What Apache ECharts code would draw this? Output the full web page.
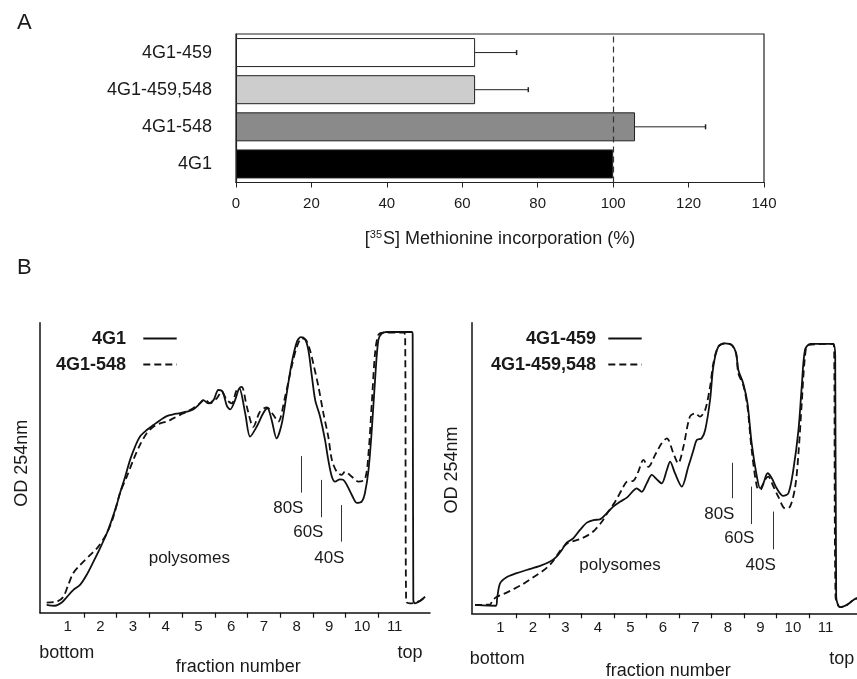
<!DOCTYPE html>
<html>
<head>
<meta charset="utf-8">
<script src="https://cdn.jsdelivr.net/npm/echarts@6/dist/echarts.min.js"></script>
<style>
  html, body { margin: 0; padding: 0; background: #ffffff; }
  #chart { width: 857px; height: 679px; }
</style>
</head>
<body>
<div id="chart"></div>
<script>
// ---- Panel A: [35S] methionine incorporation (bottom-to-top category order) ----
const constructs = ['4G1', '4G1-548', '4G1-459,548', '4G1-459'];
const incorporation = [100, 105.8, 63.4, 63.4];
const incorporationErr = [0, 18.7, 14.1, 11.0];
const incorporationTicks = [0, 20, 40, 60, 80, 100, 120, 140];

// ---- Panel B: polysome profiles, [fraction position, OD 254nm (a.u.)] ----
const profile4G1 = [
  [0.36,2.7],[0.61,2.4],[0.82,3.5],[0.97,5.3],[1.17,7.8],[1.38,9.6],[1.58,13.0],[1.79,17.6],
  [1.99,22.2],[2.20,27.4],[2.35,32.0],[2.50,37.1],[2.60,41.2],[2.76,46.9],[2.91,52.7],[3.06,57.2],
  [3.21,60.7],[3.42,63.0],[3.62,64.7],[3.83,66.4],[4.03,67.8],[4.23,68.4],[4.44,68.8],[4.64,69.3],
  [4.84,70.1],[5.00,71.6],[5.15,73.3],[5.30,72.2],[5.46,73.3],[5.61,76.8],[5.74,76.2],[5.87,71.3],
  [5.97,70.1],[6.12,73.3],[6.25,77.4],[6.43,68.8],[6.58,60.7],[6.78,64.1],[6.98,68.8],[7.11,70.5],
  [7.24,66.4],[7.39,60.1],[7.55,65.3],[7.70,75.7],[7.85,86.0],[8.01,93.4],[8.13,95.0],[8.26,94.3],
  [8.36,90.6],[8.47,81.4],[8.57,73.3],[8.72,67.6],[8.87,59.6],[8.97,52.7],[9.08,46.9],[9.18,45.2],
  [9.33,46.0],[9.43,45.8],[9.54,44.0],[9.69,40.6],[9.84,37.9],[9.99,38.3],[10.09,41.2],[10.20,49.2],
  [10.30,63.0],[10.40,80.2],[10.50,94.0],[10.61,96.3],[10.76,96.8],[11.52,96.8],[11.55,95.8],
  [11.57,4.4],[11.62,3.2],[11.78,4.1],[11.93,5.5]
];
const profile4G1_548 = [
  [0.36,3.5],[0.67,3.8],[0.87,5.5],[1.02,9.6],[1.17,13.6],[1.38,16.4],[1.69,19.9],[1.94,22.8],
  [2.20,27.4],[2.40,33.1],[2.60,41.2],[2.81,46.9],[3.01,52.7],[3.21,57.8],[3.42,61.9],[3.62,64.1],
  [3.83,65.3],[4.03,65.9],[4.23,67.0],[4.44,68.2],[4.64,69.3],[4.84,70.5],[5.05,72.2],[5.20,73.6],
  [5.35,72.2],[5.56,73.9],[5.71,76.2],[5.87,73.3],[6.02,72.2],[6.17,76.8],[6.32,77.9],[6.48,71.0],
  [6.68,64.1],[6.88,69.3],[7.09,70.8],[7.29,68.2],[7.44,65.9],[7.65,74.5],[7.85,84.8],[8.01,91.7],
  [8.16,94.6],[8.29,94.0],[8.41,90.6],[8.51,86.0],[8.67,77.9],[8.82,68.8],[8.97,60.7],[9.08,52.7],
  [9.23,48.6],[9.38,47.5],[9.48,48.6],[9.69,46.9],[9.89,45.2],[10.09,46.0],[10.20,55.0],[10.30,72.2],
  [10.40,89.4],[10.50,95.8],[10.65,96.6],[11.27,96.6],[11.32,95.8],[11.35,3.8],[11.47,3.2],
  [11.78,4.1],[11.93,5.5]
];
const profile4G1_459 = [
  [0.22,2.9],[0.86,2.6],[0.90,5.2],[0.99,10.3],[1.19,12.4],[1.50,13.8],[1.81,14.9],[2.22,16.3],
  [2.53,17.8],[2.73,19.5],[2.89,21.8],[3.04,24.3],[3.24,25.8],[3.45,28.7],[3.66,31.2],[3.86,32.1],
  [4.06,32.3],[4.27,34.4],[4.47,36.7],[4.68,38.4],[4.89,39.8],[5.09,42.2],[5.19,43.0],[5.35,41.8],
  [5.50,44.7],[5.66,47.6],[5.81,46.1],[5.96,44.7],[6.12,49.3],[6.22,52.2],[6.37,48.2],[6.58,43.6],
  [6.78,50.4],[6.94,56.2],[7.04,59.6],[7.19,60.2],[7.30,63.1],[7.45,73.4],[7.55,84.9],[7.70,91.7],
  [7.91,92.9],[8.12,92.3],[8.25,89.5],[8.32,83.7],[8.47,79.1],[8.60,72.3],[8.73,58.5],[8.89,47.0],
  [8.99,43.0],[9.09,44.7],[9.22,48.2],[9.35,46.5],[9.50,43.0],[9.70,40.4],[9.86,41.3],[10.01,49.3],
  [10.17,63.1],[10.27,78.0],[10.37,90.6],[10.53,92.7],[11.24,92.7],[11.30,88.0],[11.33,5.7],
  [11.45,2.1],[11.66,2.9],[11.86,4.6],[11.97,5.2]
];
const profile4G1_459_548 = [
  [0.22,2.9],[0.68,3.0],[0.75,4.3],[0.89,5.7],[1.09,6.6],[1.40,8.3],[1.70,10.1],[2.01,12.4],
  [2.32,14.7],[2.58,17.4],[2.78,20.6],[2.94,22.9],[3.09,24.3],[3.30,25.0],[3.50,25.8],[3.70,26.9],
  [3.91,28.7],[4.12,31.5],[4.32,35.0],[4.53,38.4],[4.73,42.4],[4.89,45.3],[5.09,45.6],[5.24,48.7],
  [5.40,52.8],[5.55,50.4],[5.76,54.5],[5.96,58.5],[6.12,60.2],[6.32,55.1],[6.47,51.6],[6.63,57.3],
  [6.83,67.7],[6.99,68.8],[7.14,67.7],[7.30,70.0],[7.45,78.0],[7.55,86.0],[7.70,91.7],[7.91,92.9],
  [8.12,92.3],[8.25,89.5],[8.32,82.5],[8.47,78.6],[8.60,71.1],[8.73,56.2],[8.89,43.6],[8.99,42.4],
  [9.14,45.9],[9.24,47.0],[9.40,43.6],[9.55,40.1],[9.76,36.1],[9.91,36.7],[10.07,43.6],[10.17,55.1],
  [10.27,72.3],[10.37,88.3],[10.47,92.3],[11.24,92.7],[11.27,88.0],[11.31,5.7],[11.45,2.1],
  [11.66,2.9],[11.86,4.6],[11.97,5.2]
];
const fractionLabels = [1, 2, 3, 4, 5, 6, 7, 8, 9, 10, 11];
const fractionBoundaries = [1.5, 2.5, 3.5, 4.5, 5.5, 6.5, 7.5, 8.5, 9.5, 10.5];

// Ribosomal subunit markers: [label, fraction position, top OD, bottom OD]
const markersLeft = [['80S', 8.14, 54.0, 41.4], ['60S', 8.74, 45.8, 32.9], ['40S', 9.38, 37.1, 24.5]];
const markersRight = [['80S', 8.12, 51.8, 39.6], ['60S', 8.71, 43.6, 30.7], ['40S', 9.38, 35.0, 22.0]];

// ---- styling ----
const FONT = '"Liberation Sans", Arial, Helvetica, sans-serif';
const INK = '#111111';
const barFills = ['#000000', '#8a8a8a', '#cdcdcd', '#ffffff'];

const chart = echarts.init(document.getElementById('chart'), null, { renderer: 'canvas' });

function markerLines(list) {
  return list.map(m => [{ coord: [m[1], m[2]] }, { coord: [m[1], m[3]] }]);
}

function profileAxes(gridIndex, min, max) {
  return {
    x: {
      type: 'value', gridIndex, min, max,
      axisLine: { show: true, onZero: false, lineStyle: { color: INK, width: 1.5 } },
      axisTick: { show: true, customValues: fractionBoundaries, length: 5, lineStyle: { color: INK, width: 1.2 } },
      axisLabel: { show: true, customValues: fractionLabels, margin: 7, fontSize: 15, color: '#1a1a1a', fontFamily: FONT,
                   formatter: v => String(Math.round(v)) },
      splitLine: { show: false }
    },
    y: {
      type: 'value', gridIndex, min: 0, max: 100,
      axisLine: { show: true, onZero: false, lineStyle: { color: INK, width: 1.5 } },
      axisTick: { show: false }, axisLabel: { show: false }, splitLine: { show: false }
    }
  };
}
const axL = profileAxes(1, 0.156, 12.08);
const axR = profileAxes(2, 0.117, 11.97);

function trace(name, data, idx, dashed, markers) {
  const s = {
    name, type: 'line', xAxisIndex: idx, yAxisIndex: idx, data,
    symbol: 'none', smooth: 0.3, silent: true, animation: false,
    lineStyle: { color: INK, width: 1.8, type: dashed ? [7, 4] : 'solid' }
  };
  if (markers) {
    s.markLine = {
      symbol: 'none', silent: true, animation: false,
      label: { show: false },
      lineStyle: { color: '#333', width: 1, type: 'solid' },
      data: markerLines(markers)
    };
  }
  return s;
}

function txt(text, x, y, size, opts) {
  opts = opts || {};
  return {
    type: 'text', x, y, rotation: opts.rotation || 0, silent: true,
    style: {
      text, font: (opts.bold ? 'bold ' : '') + size + 'px ' + FONT,
      fill: '#1a1a1a', textAlign: opts.align || 'center', textVerticalAlign: 'middle'
    }
  };
}
function seg(x1, y1, x2, y2, dashed) {
  return {
    type: 'line', silent: true,
    shape: { x1, y1, x2, y2 },
    style: { stroke: INK, lineWidth: 1.8, lineDash: dashed ? [7, 4] : null }
  };
}

const option = {
  backgroundColor: '#ffffff',
  animation: false,
  textStyle: { fontFamily: FONT },
  grid: [
    { left: 236, top: 34, width: 528, height: 148.5, show: true, borderColor: '#222', borderWidth: 1.2, backgroundColor: 'transparent' },
    { left: 40, top: 322.7, width: 390, height: 290 },
    { left: 471.7, top: 322.7, width: 385.3, height: 290.6 }
  ],
  xAxis: [
    {
      type: 'value', gridIndex: 0, min: 0, max: 140, interval: 20,
      axisLine: { show: true, onZero: false, lineStyle: { color: '#222', width: 1.2 } },
      axisTick: { show: true, length: 5, lineStyle: { color: '#222' } },
      axisLabel: { margin: 14, fontSize: 15, color: '#1a1a1a', fontFamily: FONT },
      splitLine: { show: false },
      name: '[{sup|35}S] Methionine incorporation (%)',
      nameLocation: 'middle', nameGap: 47,
      nameTextStyle: { fontSize: 18, color: '#1a1a1a', fontFamily: FONT,
        rich: { sup: { fontSize: 11, verticalAlign: 'top', padding: [0, 1, 9, 0], fontFamily: FONT, color: '#1a1a1a' } } }
    },
    axL.x, axR.x
  ],
  yAxis: [
    {
      type: 'category', gridIndex: 0, data: constructs,
      axisLine: { show: true, lineStyle: { color: '#222', width: 1.2 } },
      axisTick: { show: false },
      axisLabel: { margin: 24, fontSize: 18, color: '#1a1a1a', fontFamily: FONT, padding: [8, 0, 0, 0] }
    },
    axL.y, axR.y
  ],
  series: [
    {
      type: 'bar', xAxisIndex: 0, yAxisIndex: 0, barWidth: 29, silent: true,
      data: incorporation.map((v, i) => ({ value: v, itemStyle: { color: barFills[i] } })),
      itemStyle: { borderColor: '#222', borderWidth: 1 },
      markLine: {
        symbol: 'none', silent: true, animation: false, label: { show: false },
        lineStyle: { color: '#333', width: 1.2, type: [6, 4] },
        data: [{ xAxis: 100 }]
      }
    },
    {
      type: 'custom', xAxisIndex: 0, yAxisIndex: 0, silent: true,
      data: incorporation.map((v, i) => [v, i, incorporationErr[i]]),
      encode: { x: 0, y: 1 },
      renderItem: function (params, api) {
        const v = api.value(0), idx = api.value(1), e = api.value(2);
        if (!(e > 0)) return null;
        const p0 = api.coord([v, idx]);
        const p1 = api.coord([v + e, idx]);
        const st = { stroke: '#222', lineWidth: 1 };
        return {
          type: 'group',
          children: [
            { type: 'line', shape: { x1: p0[0], y1: p0[1], x2: p1[0], y2: p1[1] }, style: st },
            { type: 'line', shape: { x1: p1[0], y1: p1[1] - 2.5, x2: p1[0], y2: p1[1] + 2.5 }, style: { stroke: '#222', lineWidth: 1.5 } }
          ]
        };
      }
    },
    trace('4G1', profile4G1, 1, false, markersLeft),
    trace('4G1-548', profile4G1_548, 1, true),
    trace('4G1-459', profile4G1_459, 2, false, markersRight),
    trace('4G1-459,548', profile4G1_459_548, 2, true)
  ],
  graphic: [
    txt('A', 17, 23, 22, { align: 'left' }),
    txt('B', 17, 268, 22, { align: 'left' }),
    // left profile annotations
    txt('4G1', 126, 339.3, 18, { bold: true, align: 'right' }),
    seg(143.3, 338.5, 176.7, 338.5, false),
    txt('4G1-548', 126, 365, 18, { bold: true, align: 'right' }),
    seg(143.3, 364.5, 176.7, 364.5, true),
    txt('OD 254nm', 21.7, 463.3, 18, { rotation: Math.PI / 2 }),
    txt('polysomes', 189.3, 558.3, 17),
    txt(markersLeft[0][0], 288.3, 508.3, 17),
    txt(markersLeft[1][0], 308.3, 532.3, 17),
    txt(markersLeft[2][0], 329.3, 558.3, 17),
    txt('bottom', 66.7, 652.7, 18),
    txt('top', 410, 652.7, 18),
    txt('fraction number', 238.3, 666.7, 18),
    // right profile annotations
    txt('4G1-459', 596, 339.3, 18, { bold: true, align: 'right' }),
    seg(608.3, 338.5, 641.7, 338.5, false),
    txt('4G1-459,548', 596, 365, 18, { bold: true, align: 'right' }),
    seg(608.3, 364.5, 641.7, 364.5, true),
    txt('OD 254nm', 451.7, 470, 18, { rotation: Math.PI / 2 }),
    txt('polysomes', 620, 565, 17),
    txt(markersRight[0][0], 719.3, 514, 17),
    txt(markersRight[1][0], 739.3, 538.3, 17),
    txt(markersRight[2][0], 760.7, 565, 17),
    txt('bottom', 497.3, 659.3, 18),
    txt('top', 841.7, 659.3, 18),
    txt('fraction number', 668.3, 670.7, 18)
  ]
};

chart.setOption(option);
</script>
</body>
</html>
